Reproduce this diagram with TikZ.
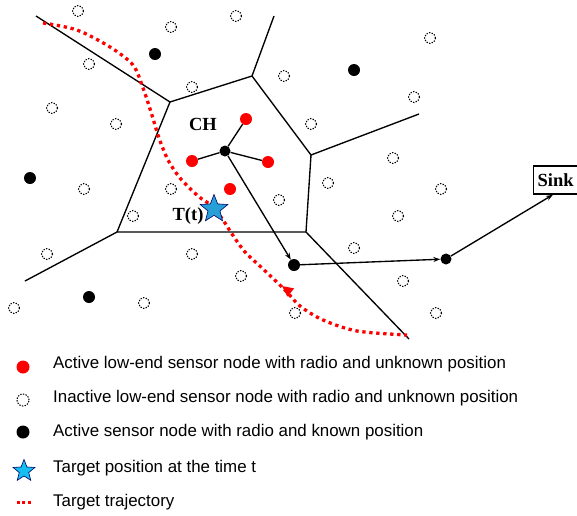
\documentclass[tikz,border=0pt]{standalone}
\usepackage{fontspec}
\setmainfont{Liberation Serif}
\setsansfont{Liberation Sans}
\usetikzlibrary{shapes.geometric,arrows.meta}
\definecolor{starblue}{RGB}{38,160,214}
\definecolor{legblue}{RGB}{20,190,240}
\begin{document}
\begin{tikzpicture}[x=1pt,y=-1pt,
  act/.style={circle,fill=red,inner sep=0pt,minimum size=12pt},
  inact/.style={circle,draw=black,line width=1.1pt,dash pattern=on 1.3pt off 1.4pt,inner sep=0pt,minimum size=11pt},
  kn/.style={circle,fill=black,inner sep=0pt,minimum size=12pt},
  vor/.style={line width=1.35pt},
  link/.style={line width=1.35pt},
  arr/.style={line width=1.35pt,-{Stealth[length=7pt,width=5pt]}},
  traj/.style={red,line width=3.3pt,dash pattern=on 3.3pt off 3.7pt},
  tstar/.style={star,star points=5,star point ratio=2.3,draw=black!60!blue,fill=starblue,line width=0.6pt,inner sep=0pt,minimum size=29pt},
  lab/.style={font=\bfseries\fontsize{18.5}{20}\selectfont,inner sep=0pt},
  leg/.style={anchor=west,font=\sffamily\fontsize{16.9}{19}\selectfont,inner sep=0pt}]
\fill[white] (0,0) rectangle (577,515);
\useasboundingbox (0,0) rectangle (577,515);

% Voronoi edges
\coordinate (va) at (170,102);
\coordinate (vb) at (252,76);
\coordinate (vc) at (311,155);
\coordinate (vd) at (306,232);
\coordinate (ve) at (117,232);
\draw[vor] (36,16) -- (va) -- (vb) -- (274,16);
\draw[vor] (vb) -- (vc) -- (419,114);
\draw[vor] (vc) -- (vd) -- (409,339);
\draw[vor] (va) -- (ve) -- (vd);
\draw[vor] (ve) -- (25,281);

% inactive nodes
\foreach \p in {(78,11),(171,27),(236,16),(89,64),(52,108),(116,124),(192,87),(284,76),
  (430,38),(414,97),(311,124),(393,158),(84,189),(171,189),(133,216),(47,254),(192,254),
  (241,276),(144,303),(14,308),(279,200),(328,183),(441,189),(398,216),(354,248),
  (403,281),(436,313),(295,313)}
  \node[inact] at \p {};

% trajectory
\draw[traj] plot[smooth,tension=0.5] coordinates {(43,23) (77,30) (110,47) (133,65) (143,88) (151,112) (159,138) (168,160) (180,178) (198,196) (212,206) (223,220) (232,234) (245,252) (262,268) (285,290) (300,306) (323,320) (357,331) (407,335)};
\fill[red] (282,286) -- (287.3,296.6) -- (294.2,288.4) -- cycle;

% known-position nodes
\node[kn] (k1) at (155,54) {};
\node[kn] (k2) at (354,70) {};
\node[kn] (k3) at (30,178) {};
\node[kn] (k4) at (89,297) {};
\node[kn,minimum size=11pt] (ch) at (225,151) {};
\node[kn] (k5) at (294,265) {};
\node[kn,minimum size=11pt] (k6) at (446,259) {};

% active low-end nodes
\node[act] (r1) at (246,119) {};
\node[act] (r2) at (192,161) {};
\node[act] (r3) at (268,162) {};
\node[act] (r4) at (230,189) {};

\draw[link] (ch) -- (r1);
\draw[link] (ch) -- (r2);
\draw[link] (ch) -- (r3);

% sink
\node[draw,line width=1.3pt,font=\bfseries\fontsize{18.5}{20}\selectfont,anchor=west,minimum height=28pt,inner xsep=4pt] (sink) at (533,180) {Sink\hspace{16pt}};

\draw[arr] (ch) -- (k5);
\draw[arr] (k5) -- (k6);
\draw[arr] (k6) -- ([xshift=20pt]sink.south west);

% target
\node[tstar] (tg) at (214,209) {};
\node[lab] (ch lab) at (203,124) {CH};
\node[lab] (tt) at (188,216) {T(t)};

% legend
\node[act,minimum size=13pt] (l1) at (23,367) {};
\node[inact,minimum size=12pt] (l2) at (23,400) {};
\node[kn,minimum size=13pt] (l3) at (23,432) {};
\node[tstar,minimum size=23pt,fill=legblue] (l4) at (24,471) {};
\draw[red,line width=3pt,dash pattern=on 3pt off 2.5pt] (16.5,502) -- (31.5,502);
\node[leg] (t1) at (53,364) {Active low-end sensor node with radio and unknown position};
\node[leg] (t2) at (53,398) {Inactive low-end sensor node with radio and unknown position};
\node[leg] (t3) at (53,432) {Active sensor node with radio and known position};
\node[leg] (t4) at (53,468) {Target position at the time t};
\node[leg] (t5) at (53,502) {Target trajectory};
\end{tikzpicture}
\end{document}
